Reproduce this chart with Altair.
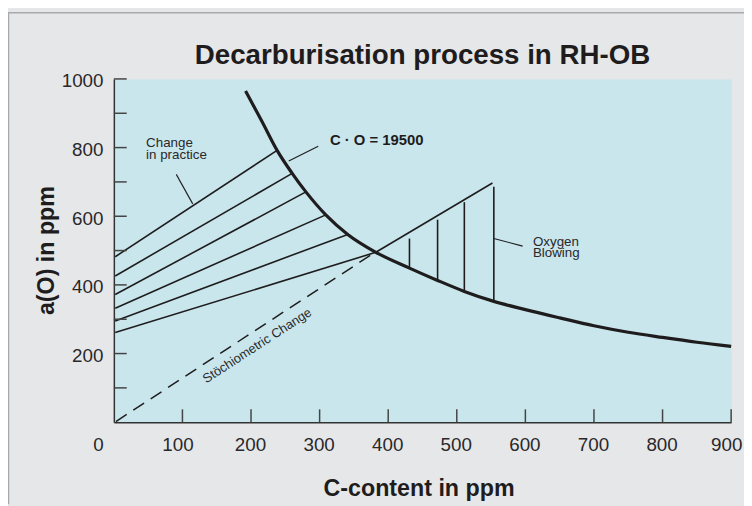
import altair as alt
import pandas as pd

# ---------------- data ----------------
# C·O equilibrium curve (C-content ppm, a(O) ppm)
curve_c = [192, 216, 238, 260, 280, 309, 341, 382, 431, 472, 511, 554, 600, 650, 700, 750, 800, 850, 900]
curve_o = [965, 876, 792, 725, 671, 604, 547, 495, 449, 413, 381, 352, 328, 304, 281, 262, 247, 233, 221]

# "Change in practice" lines (start on the a(O) axis, end on the curve)
practice_start_c = [2, 2, 2, 2, 2, 2]
practice_start_o = [482, 426, 372, 332, 295, 261]
practice_end_c = [238, 260, 280, 309, 341, 382]
practice_end_o = [792, 725, 671, 604, 547, 495]

# Oxygen blowing line and the vertical drops
blow_c = [382, 552]
blow_o = [495, 697]
vert_c = [431, 472, 511, 554]
vert_top_o = [535, 590, 641, 686]
vert_bot_o = [449, 413, 381, 352]

# Stoichiometric change (dashed)
stoich_c = [3, 380]
stoich_o = [2, 494]

# leader lines for the annotations
leader_c1 = [91, 255, 554]
leader_o1 = [722, 761, 535]
leader_c2 = [115, 298, 596]
leader_o2 = [636, 804, 513]

# annotation texts (one row per text line)
label_text = ["Change", "in practice", "Oxygen", "Blowing"]
label_c = [47, 47, 611, 611]
label_o = [801, 767, 513, 481]
co_text = ["C · O = 19500"]
co_c = [315]
co_o = [807]
stoich_text = ["Stöchiometric Change"]
stoich_lc = [209]
stoich_lo = [223]

# axis ticks / labels
x_label_values = [0, 100, 200, 300, 400, 500, 600, 700, 800, 900]
x_tick_values = [100, 200, 300, 400, 500, 600, 700, 800, 900]
y_label_values = [200, 400, 600, 800, 1000]
y_tick_values = [100, 200, 300, 400, 500, 600, 700, 800, 900, 1000]

# ---------------- tables ----------------
curve_df = pd.DataFrame({"C": curve_c, "O": curve_o})

seg_rows = []
for a, b, c, d in zip(practice_start_c, practice_start_o, practice_end_c, practice_end_o):
    seg_rows.append({"c1": a, "o1": b, "c2": c, "o2": d})
seg_rows.append({"c1": blow_c[0], "o1": blow_o[0], "c2": blow_c[1], "o2": blow_o[1]})
for c, t, bo in zip(vert_c, vert_top_o, vert_bot_o):
    seg_rows.append({"c1": c, "o1": t, "c2": c, "o2": bo})
seg_df = pd.DataFrame(seg_rows)

stoich_df = pd.DataFrame({"c1": [stoich_c[0]], "o1": [stoich_o[0]],
                          "c2": [stoich_c[1]], "o2": [stoich_o[1]]})
leader_df = pd.DataFrame({"c1": leader_c1, "o1": leader_o1, "c2": leader_c2, "o2": leader_o2})
label_df = pd.DataFrame({"t": label_text, "C": label_c, "O": label_o})
co_df = pd.DataFrame({"t": co_text, "C": co_c, "O": co_o})
stoich_lbl_df = pd.DataFrame({"t": stoich_text, "C": stoich_lc, "O": stoich_lo})
xt_df = pd.DataFrame({"C": x_tick_values})
yt_df = pd.DataFrame({"O": y_tick_values})
one_df = pd.DataFrame({"k": [0]})

FONT = "Liberation Sans"
INK = "#1e1c1d"
TXT = "#2a2829"

xscale = alt.Scale(domain=[0, 900], nice=False, zero=False)
yscale = alt.Scale(domain=[0, 1000], nice=False, zero=False)

x_axis = alt.Axis(
    values=x_label_values, ticks=False, tickSize=0, grid=False, format="d",
    domainColor="#333333", domainWidth=1.5,
    labelFont=FONT, labelFontSize=19, labelColor=TXT,
    labelPadding=29, labelBaseline="alphabetic", labelFlush=False, labelOverlap=False,
    labelOffset={"condition": [{"test": "datum.value == 0", "value": -16},
                               {"test": "datum.value == 100 || datum.value == 900", "value": -5}],
                 "value": -1},
    title="C-content in ppm", titleFont=FONT, titleFontSize=23.5, titleFontWeight="bold",
    titleColor=INK, titleX=308, titleY=74, titleBaseline="alphabetic", titleAlign="center",
)
y_axis = alt.Axis(
    values=y_label_values, ticks=False, tickSize=0, grid=False, format="d",
    domainColor="#333333", domainWidth=1.5,
    labelFont=FONT, labelFontSize=19, labelColor=TXT,
    labelPadding=11, labelOffset=2, labelFlush=False, labelOverlap=False,
    title="a(O) in ppm", titleFont=FONT, titleFontSize=23.5, titleFontWeight="bold",
    titleColor=INK, titleX=-61, titleY=173, titleAngle=270,
    titleBaseline="alphabetic", titleAlign="center",
)

base_x = alt.X("C:Q", scale=xscale, axis=x_axis)
base_y = alt.Y("O:Q", scale=yscale, axis=y_axis)

curve = alt.Chart(curve_df).mark_line(
    interpolate="monotone", strokeWidth=3.2, color=INK, strokeCap="butt"
).encode(x=base_x, y=base_y)

segs = alt.Chart(seg_df).mark_rule(strokeWidth=1.6, color=INK).encode(
    x=alt.X("c1:Q", scale=xscale), y=alt.Y("o1:Q", scale=yscale), x2="c2:Q", y2="o2:Q")

stoich = alt.Chart(stoich_df).mark_rule(strokeWidth=1.5, color=INK, strokeDash=[13, 8]).encode(
    x=alt.X("c1:Q", scale=xscale), y=alt.Y("o1:Q", scale=yscale), x2="c2:Q", y2="o2:Q")

leaders = alt.Chart(leader_df).mark_rule(strokeWidth=1.1, color=INK).encode(
    x=alt.X("c1:Q", scale=xscale), y=alt.Y("o1:Q", scale=yscale), x2="c2:Q", y2="o2:Q")

labels = alt.Chart(label_df).mark_text(
    font=FONT, fontSize=13.5, color=TXT, align="left", baseline="alphabetic"
).encode(x=alt.X("C:Q", scale=xscale), y=alt.Y("O:Q", scale=yscale), text="t:N")

co_label = alt.Chart(co_df).mark_text(
    font=FONT, fontSize=15, fontWeight="bold", color=INK, align="left", baseline="alphabetic"
).encode(x=alt.X("C:Q", scale=xscale), y=alt.Y("O:Q", scale=yscale), text="t:N")

stoich_label = alt.Chart(stoich_lbl_df).mark_text(
    font=FONT, fontSize=13, color=TXT, align="center", baseline="middle", angle=327
).encode(x=alt.X("C:Q", scale=xscale), y=alt.Y("O:Q", scale=yscale), text="t:N")

xticks = alt.Chart(xt_df).mark_rule(strokeWidth=1.5, color="#444444").encode(
    x=alt.X("C:Q", scale=xscale), y=alt.value(347), y2=alt.value(334))
yticks = alt.Chart(yt_df).mark_rule(strokeWidth=1.5, color="#444444").encode(
    y=alt.Y("O:Q", scale=yscale), x=alt.value(0), x2=alt.value(13))

frame_top = alt.Chart(one_df).mark_rule(strokeWidth=1.5, color="#a9a9ab").encode(
    x=alt.value(-107), x2=alt.value(640), y=alt.value(-67))
frame_left = alt.Chart(one_df).mark_rule(strokeWidth=1.5, color="#a9a9ab").encode(
    x=alt.value(-106.5), y=alt.value(-67), y2=alt.value(430))

chart = alt.layer(
    frame_top, frame_left, stoich, segs, leaders, curve, xticks, yticks,
    labels, co_label, stoich_label
).properties(
    width=624, height=347,
    autosize=alt.AutoSizeParams(type="none"),
    padding={"left": 107, "top": 69, "right": 13, "bottom": 82},
    title=alt.TitleParams(
        "Decarburisation process in RH-OB", font=FONT, fontSize=28, fontWeight="bold",
        color=INK, anchor="middle", baseline="alphabetic", offset=0, dy=81, frame="group"
    ),
).configure(
    background="#e6e7e9"
).configure_view(
    fill="#c8e6ec", stroke="transparent"
)

chart.save("out.html", embed_options={"renderer": "svg", "actions": False})
